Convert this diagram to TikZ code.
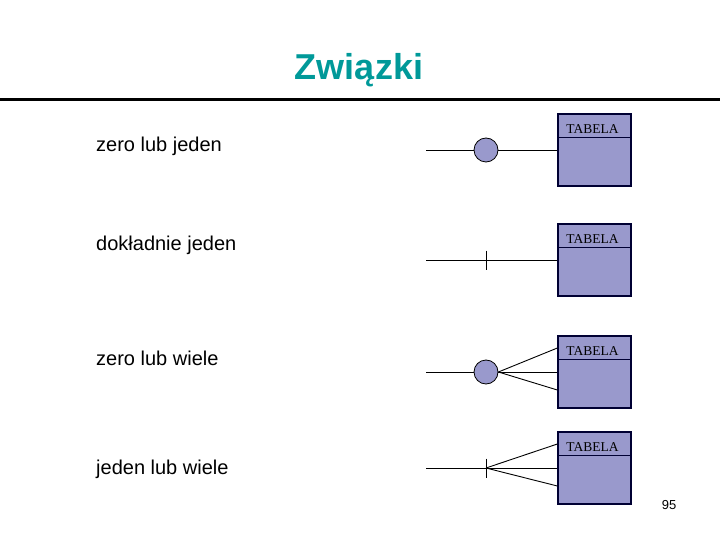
\documentclass[tikz,border=0pt]{standalone}
\usepackage{fontspec}
\setmainfont{Liberation Sans}
\newfontfamily\tabfont{Liberation Serif}
\usetikzlibrary{calc}

\definecolor{tytul}{RGB}{0,153,153}
\definecolor{tabela}{RGB}{153,153,204}
\definecolor{ramka}{RGB}{0,0,51}

\tikzset{
  tabbox/.style={draw=ramka,line width=1.3pt,fill=tabela,minimum width=73pt,minimum height=72pt,inner sep=0pt},
  tabname/.style={font=\tabfont\fontsize{13.5}{14}\selectfont,anchor=base,inner sep=0pt},
  opis/.style={font=\fontsize{20}{22}\selectfont,anchor=base west,inner sep=0pt},
  kolko/.style={circle,draw=black,line width=0.8pt,fill=tabela,minimum size=24pt,inner sep=0pt},
  linia/.style={line width=0.9pt}
}

\begin{document}
\begin{tikzpicture}[x=1pt,y=-1pt]
\useasboundingbox (0,0) rectangle (720,540);
\node [font=\bfseries\fontsize{36}{40}\selectfont,text=tytul,anchor=base,inner sep=0pt] (title) at (359,80) {Związki};
\fill (0,98) rectangle (720,101.5);
% tabele
\node [tabbox] (tab1) at (594.5,150) {};
\node [tabbox] (tab2) at (594.5,260) {};
\node [tabbox] (tab3) at (594.5,372) {};
\node [tabbox] (tab4) at (594.5,468) {};
\foreach \t in {tab1,tab2,tab3,tab4} {
  \draw [draw=ramka,line width=1pt] ($(\t.north west)+(0,24)$) -- ($(\t.north east)+(0,24)$);
  \node [tabname] at ($(\t.north)+(-2,20)$) {TABELA};
}
% opisy
\node [opis] (o1) at (96,152) {zero lub jeden};
\node [opis] (o2) at (96,250) {dokładnie jeden};
\node [opis] (o3) at (96,365) {zero lub wiele};
\node [opis] (o4) at (96,474) {jeden lub wiele};
% zero lub jeden
\path (426,150) coordinate (s1);
\node [kolko] (c1) at (486,150) {};
\draw [linia] (s1) -- (c1.west);
\draw [linia] (c1.east) -- (tab1.west);
% dokladnie jeden
\path (426,260) coordinate (s2);
\path (486,260) coordinate (k2);
\draw [linia] (s2) -- (tab2.west);
\draw [linia] ($(k2)+(0,-9.5)$) -- ($(k2)+(0,9.5)$);
% zero lub wiele
\path (426,372) coordinate (s3);
\node [kolko] (c3) at (486,372) {};
\draw [linia] (s3) -- (c3.west);
\draw [linia] (c3.east) -- (tab3.west);
\draw [linia] (c3.east) -- ($(tab3.west)+(0,-24)$);
\draw [linia] (c3.east) -- ($(tab3.west)+(0,18)$);
% jeden lub wiele
\path (426,468) coordinate (s4);
\path (486,468) coordinate (k4);
\draw [linia] (s4) -- (tab4.west);
\draw [linia] ($(k4)+(0,-9.5)$) -- ($(k4)+(0,9.5)$);
\draw [linia] (k4) -- ($(tab4.west)+(0,-24)$);
\draw [linia] (k4) -- ($(tab4.west)+(0,18)$);
\node [font=\fontsize{13}{14}\selectfont,anchor=base,inner sep=0pt] (nr) at (669,509) {95};
\end{tikzpicture}
\end{document}
